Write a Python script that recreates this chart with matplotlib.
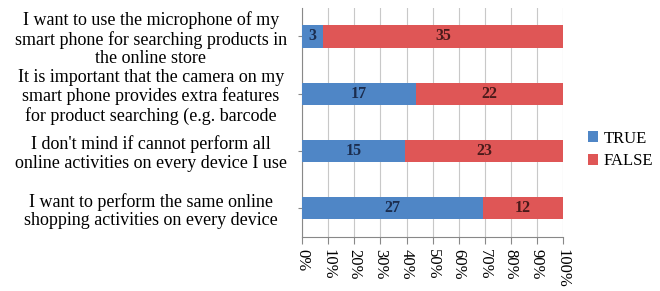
import numpy as np
import matplotlib.pyplot as plt
from matplotlib.ticker import PercentFormatter

plt.rcParams['font.family'] = ['Liberation Serif', 'DejaVu Serif']

statements = [
    "I want to perform the same online\nshopping activities on every device",
    "I don't mind if cannot perform all\nonline activities on every device I use",
    "It is important that the camera on my\nsmart phone provides extra features\nfor product searching (e.g. barcode",
    "I want to use the microphone of my\nsmart phone for searching products in\nthe online store",
]
true_counts = [27, 15, 17, 3]
false_counts = [12, 23, 22, 35]

true_c = np.array(true_counts, dtype=float)
false_c = np.array(false_counts, dtype=float)
total = true_c + false_c
true_share = true_c / total
false_share = false_c / total

fig = plt.figure(figsize=(6.6, 2.91), dpi=100)
ax = fig.add_axes([0.458, 0.186, 0.395, 0.787])

y = np.arange(len(statements))
ax.barh(y, true_share, height=0.39, color='#4F86C6', label='TRUE', zorder=3)
ax.barh(y, false_share, left=true_share, height=0.39, color='#DF5656', label='FALSE', zorder=3)

for i in range(len(statements)):
    ax.text(true_share[i] / 2, y[i], str(true_counts[i]), ha='center', va='center',
            fontsize=11.5, fontweight='bold', color='#1B2D4F', zorder=4)
    ax.text(true_share[i] + false_share[i] / 2, y[i], str(false_counts[i]), ha='center', va='center',
            fontsize=11.5, fontweight='bold', color='#4A1A1A', zorder=4)

ax.set_xlim(0, 1)
ax.set_ylim(-0.5, 3.5)
ax.set_xticks(np.linspace(0, 1, 11))
ax.xaxis.set_major_formatter(PercentFormatter(1.0, decimals=0))
ax.set_yticks(y)
ax.set_yticklabels(statements, fontsize=13, ha='center', linespacing=1.12)
ax.tick_params(axis='y', pad=106, length=3, color='#888888')
ax.tick_params(axis='x', labelrotation=-90, labelsize=12, length=5, color='#888888')
ax.grid(axis='x', color='#c8c8c8', linewidth=0.8, zorder=0)
for s in ['top', 'right']:
    ax.spines[s].set_visible(False)
for s in ['left', 'bottom']:
    ax.spines[s].set_color('#888888')

ax.legend(loc='center left', bbox_to_anchor=(1.04, 0.38), frameon=False, fontsize=12,
          handlelength=0.6, handleheight=0.6, handletextpad=0.3, labelspacing=0.4)

fig.savefig('out.png', dpi=100)
